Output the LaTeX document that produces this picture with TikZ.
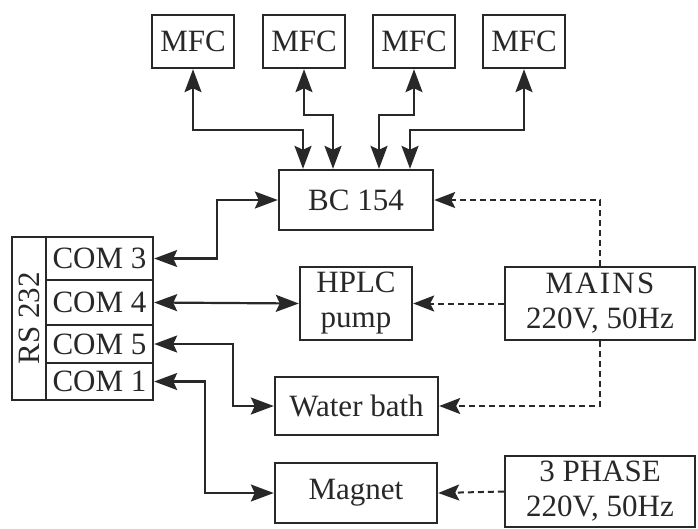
\documentclass[tikz,border=0pt]{standalone}
\usepackage{fontspec}
\setmainfont{Liberation Serif}
\usetikzlibrary{arrows.meta}
\definecolor{ink}{RGB}{40,40,40}
\begin{document}
\begin{tikzpicture}[x=1pt,y=-1pt,
  box/.style={draw=ink, line width=2.4pt, text=ink, inner sep=0pt, align=center,
    font=\fontsize{31}{35}\selectfont},
  link/.style={draw=ink, line width=2.2pt,
    {Stealth[length=23pt,width=17pt,inset=4pt]}-{Stealth[length=23pt,width=17pt,inset=4pt]}},
  feed/.style={draw=ink, line width=2pt, dash pattern=on 6pt off 4pt,
    -{Stealth[length=21pt,width=16pt,inset=4pt]}}]
\useasboundingbox (0,0) rectangle (698,528);
\fill[white] (0,0) rectangle (698,528);
% MFC boxes
\node[box, minimum width=82pt, minimum height=53pt] (m1) at (193,41.5) {MFC};
\node[box, minimum width=82pt, minimum height=53pt] (m2) at (304,41.5) {MFC};
\node[box, minimum width=82pt, minimum height=53pt] (m3) at (414,41.5) {MFC};
\node[box, minimum width=82pt, minimum height=53pt] (m4) at (524,41.5) {MFC};
% BC 154
\node[box, minimum width=154pt, minimum height=60pt] (bc) at (356,200) {BC 154};
% RS 232
\node[box, minimum width=34pt, minimum height=163pt] (rs) at (29,318.5) {\rotatebox{90}{RS 232}};
\node[box, minimum width=107pt, minimum height=43pt] (c3) at (99.5,258.5) {COM 3};
\node[box, minimum width=107pt, minimum height=45pt] (c4) at (99.5,302.5) {COM 4};
\node[box, minimum width=107pt, minimum height=38pt] (c5) at (99.5,344) {COM 5};
\node[box, minimum width=107pt, minimum height=37pt] (c1) at (99.5,381.5) {COM 1};
% devices
\node[box, minimum width=112pt, minimum height=73pt] (hp) at (356,303.5) {HPLC\\pump};
\node[box, minimum width=163pt, minimum height=58pt] (wb) at (356.5,406) {Water bath};
\node[box, minimum width=162pt, minimum height=60pt] (mg) at (356,493) {Magnet};
% power
\node[box, minimum width=190pt, minimum height=73pt] (mn) at (600,303.5) {{\addfontfeature{LetterSpace=7}MAINS}\\220V, 50Hz};
\node[box, minimum width=190pt, minimum height=71pt] (ph) at (600,491.5) {3 PHASE\\220V, 50Hz};
% MFC links
\draw[link] (m1.south) -- (m1.south |- 0,130) -| ([xshift=-53pt]bc.north);
\draw[link] (m2.south) -- (m2.south |- 0,115) -| ([xshift=-23pt]bc.north);
\draw[link] (m3.south) -- (m3.south |- 0,115) -| ([xshift=23pt]bc.north);
\draw[link] (m4.south) -- (m4.south |- 0,130) -| ([xshift=54pt]bc.north);
% COM links
\draw[link] (c3.east) -- ([xshift=63pt]c3.east) |- (bc.west);
\draw[link] (c4.east) -- (hp.west);
\draw[link] (c5.east) -- ([xshift=79pt]c5.east) |- (wb.west);
\draw[link] (c1.east) -- ([xshift=51pt]c1.east) |- (mg.west);
% power feeds
\draw[feed] (mn.north) |- (bc.east);
\draw[feed] (mn.west) -- (hp.east);
\draw[feed] (mn.south) |- (wb.east);
\draw[feed] (ph.west) -- (mg.east);
\end{tikzpicture}
\end{document}
